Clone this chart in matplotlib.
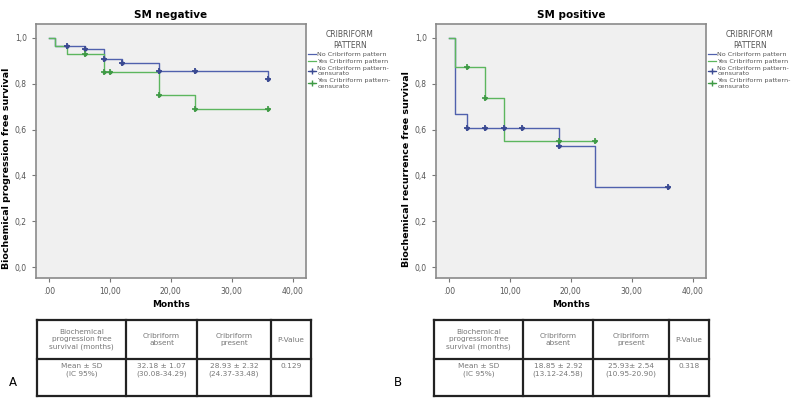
import matplotlib
matplotlib.use('Agg')
import matplotlib.pyplot as plt
import numpy as np
from matplotlib.lines import Line2D

# Kaplan-Meier step data
# SM negative
neg_no_t = [0, 1, 6, 9, 12, 18, 36]
neg_no_s = [1.0, 0.965, 0.953, 0.907, 0.892, 0.855, 0.823]
neg_no_cens = [3, 6, 9, 12, 18, 24, 36]
neg_yes_t = [0, 1, 3, 9, 18, 24, 36]
neg_yes_s = [1.0, 0.965, 0.931, 0.851, 0.753, 0.689, 0.689]
neg_yes_cens = [6, 9, 10, 18, 24, 36]

# SM positive
pos_no_t = [0, 1, 3, 18, 24, 36]
pos_no_s = [1.0, 0.667, 0.606, 0.527, 0.35, 0.35]
pos_no_cens = [3, 6, 9, 12, 18, 36]
pos_yes_t = [0, 1, 6, 9, 24]
pos_yes_s = [1.0, 0.873, 0.739, 0.552, 0.552]
pos_yes_cens = [3, 6, 18, 24]

x_ticks = [0, 10, 20, 30, 40]
x_ticklabels = ['.00', '10,00', '20,00', '30,00', '40,00']
y_ticks = [0.0, 0.2, 0.4, 0.6, 0.8, 1.0]
y_ticklabels = ['0,0', '0,2', '0,4', '0,6', '0,8', '1,0']

legend_labels = ['No Cribriform pattern', 'Yes Cribriform pattern',
                 'No Cribriform pattern-\ncensurato', 'Yes Cribriform pattern-\ncensurato']

# tables
tbl_header = ['Biochemical\nprogression free\nsurvival (months)', 'Cribriform\nabsent',
              'Cribriform\npresent', 'P-Value']
tbl_row_a = ['Mean \u00b1 SD\n(IC 95%)', '32.18 \u00b1 1.07\n(30.08-34.29)',
             '28.93 \u00b1 2.32\n(24.37-33.48)', '0.129']
tbl_row_b = ['Mean \u00b1 SD\n(IC 95%)', '18.85 \u00b1 2.92\n(13.12-24.58)',
             '25.93\u00b1 2.54\n(10.95-20.90)', '0.318']

BLUE = '#5061ad'
BLUE_M = '#3b4a92'
GREEN = '#5cb65e'
GREEN_M = '#3f9a45'
TXT = '#555555'

W, H = 800, 403
fig = plt.figure(figsize=(8.0, 4.03), dpi=100)


def px(x0, y0, x1, y1):
    return [x0 / W, 1 - y1 / H, (x1 - x0) / W, (y1 - y0) / H]


def surv_at(t_steps, s_steps, t):
    i = np.searchsorted(t_steps, t, side='right') - 1
    return s_steps[i]


def km_panel(rect, title, ylabel, no_t, no_s, no_c, yes_t, yes_s, yes_c):
    ax = fig.add_axes(px(*rect))
    ax.set_facecolor('#f0f0f0')
    ax.step(no_t, no_s, where='post', color=BLUE, lw=1.0)
    ax.step(yes_t, yes_s, where='post', color=GREEN, lw=1.0)
    ax.plot(no_c, [surv_at(no_t, no_s, t) for t in no_c], ls='none', marker='+',
            color=BLUE_M, ms=4.5, mew=1.3)
    ax.plot(no_c, [surv_at(no_t, no_s, t) for t in no_c], ls='none', marker='o',
            color=BLUE_M, ms=2)
    ax.plot(yes_c, [surv_at(yes_t, yes_s, t) for t in yes_c], ls='none', marker='+',
            color=GREEN_M, ms=4.5, mew=1.2)
    ax.plot(yes_c, [surv_at(yes_t, yes_s, t) for t in yes_c], ls='none', marker='o',
            color=GREEN_M, ms=1.8)
    ax.set_xlim(-2.1, 42.2)
    ax.set_ylim(-0.048, 1.061)
    ax.set_xticks(x_ticks)
    ax.set_xticklabels(x_ticklabels)
    ax.set_yticks(y_ticks)
    ax.set_yticklabels(y_ticklabels)
    ax.tick_params(labelsize=5.5, labelcolor=TXT, color='#777777', length=3, width=0.8)
    for side in ax.spines.values():
        side.set_color('#8a8a8a')
        side.set_linewidth(1.2)
    ax.set_title(title, fontsize=7.5, fontweight='bold', pad=4)
    ax.set_xlabel('Months', fontsize=6.5, fontweight='bold', labelpad=3)
    ax.set_ylabel(ylabel, fontsize=6.8, fontweight='bold')
    ax.yaxis.set_label_coords(-25 / 270, 0.43)

    handles = [Line2D([], [], color=BLUE, lw=0.9),
               Line2D([], [], color=GREEN, lw=0.9),
               Line2D([], [], color=BLUE_M, lw=0.9, marker='+', ms=5),
               Line2D([], [], color=GREEN_M, lw=0.9, marker='+', ms=5)]
    leg = ax.legend(handles, legend_labels, title='CRIBRIFORM\nPATTERN',
                    loc='upper left', bbox_to_anchor=(0.995, 0.99), frameon=False,
                    fontsize=4.6, title_fontsize=5.5, handlelength=1.2,
                    handletextpad=0.2, labelspacing=0.25, borderaxespad=0.2)
    leg.get_title().set_color(TXT)
    leg.get_title().set_multialignment('center')
    for t in leg.get_texts():
        t.set_color(TXT)
    return ax


def draw_table(x0, col_w, row_data):
    y0, ymid, y1 = 320, 359, 396
    xs = np.cumsum([x0] + col_w)
    lw = 1.6
    for yy in (y0, ymid, y1):
        fig.add_artist(Line2D([xs[0] / W, xs[-1] / W], [1 - yy / H] * 2, color='#222222', lw=lw))
    for xx in xs:
        fig.add_artist(Line2D([xx / W] * 2, [1 - y0 / H, 1 - y1 / H], color='#222222', lw=lw))
    for i, txt in enumerate(tbl_header):
        cx = (xs[i] + xs[i + 1]) / 2
        fig.text(cx / W, 1 - (y0 + ymid) / 2 / H, txt, ha='center', va='center',
                 fontsize=5.3, color='#777777', linespacing=1.3)
    for i, txt in enumerate(row_data):
        cx = (xs[i] + xs[i + 1]) / 2
        fig.text(cx / W, 1 - (ymid + 4) / H, txt, ha='center', va='top',
                 fontsize=5.3, color='#777777', linespacing=1.3)


km_panel((36, 24, 306, 278), 'SM negative', 'Biochemical progression free survival',
         neg_no_t, neg_no_s, neg_no_cens, neg_yes_t, neg_yes_s, neg_yes_cens)
km_panel((436, 24, 706, 278), 'SM positive', 'Biochemical recurrence free survival',
         pos_no_t, pos_no_s, pos_no_cens, pos_yes_t, pos_yes_s, pos_yes_cens)

draw_table(37, [89, 71, 74, 40], tbl_row_a)
draw_table(434, [89, 70, 76, 40], tbl_row_b)

fig.text(13 / W, 1 - 383 / H, 'A', fontsize=8.5, ha='center', va='center')
fig.text(398 / W, 1 - 383 / H, 'B', fontsize=8.5, ha='center', va='center')

fig.savefig('out.png', dpi=100)
